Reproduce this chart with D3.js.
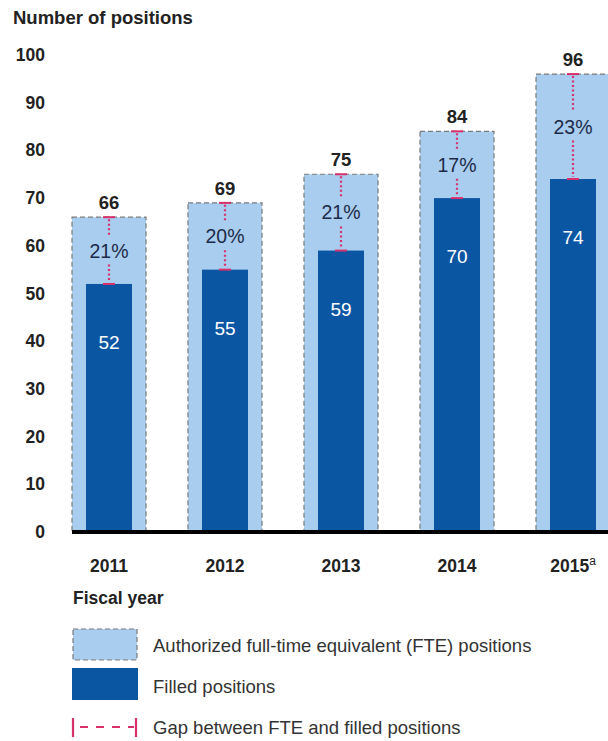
<!DOCTYPE html>
<meta charset="utf-8">
<script src="https://d3js.org/d3.v7.min.js"></script>
<style>
body { margin: 0; background: #fff; font-family: Arial, "Liberation Sans", sans-serif; }
</style>
<body>
<script>
var years = ["2011", "2012", "2013", "2014", "2015"];
var authorized = [66, 69, 75, 84, 96];
var filled = [52, 55, 59, 70, 74];
var gapPct = ["21%", "20%", "21%", "17%", "23%"];
var yTicks = [0, 10, 20, 30, 40, 50, 60, 70, 80, 90, 100];

var width = 608, height = 741;
var lightBlue = "#a9cdee", darkBlue = "#0b56a3", gapRed = "#d8306a";

var svg = d3.select("body").append("svg")
    .attr("width", width)
    .attr("height", height);

var x = d3.scaleBand()
    .domain(years)
    .range([51, 631])
    .paddingInner(0.362)
    .paddingOuter(0.181);

var y = d3.scaleLinear()
    .domain([0, 100])
    .range([532, 55]);

// title
svg.append("text")
    .attr("x", 13).attr("y", 24)
    .attr("font-size", 18.5).attr("font-weight", "bold").attr("fill", "#222")
    .text("Number of positions");

// y tick labels
svg.selectAll(".ytick").data(yTicks).enter().append("text")
    .attr("class", "ytick")
    .attr("x", 45)
    .attr("y", function(d) { return y(d) + 6; })
    .attr("text-anchor", "end")
    .attr("font-size", 17.5).attr("font-weight", "bold").attr("fill", "#222")
    .text(function(d) { return d; });

var g = svg.selectAll(".bar").data(years).enter().append("g").attr("class", "bar");

// authorized (light) bars
g.append("rect")
    .attr("x", function(d) { return x(d); })
    .attr("y", function(d, i) { return y(authorized[i]); })
    .attr("width", x.bandwidth())
    .attr("height", function(d, i) { return y(0) - y(authorized[i]); })
    .attr("fill", lightBlue)
    .attr("stroke", "#7a7a7a")
    .attr("stroke-width", 1.2)
    .attr("stroke-dasharray", "5,3");

// filled (dark) bars
var inset = 14;
g.append("rect")
    .attr("x", function(d) { return x(d) + inset; })
    .attr("y", function(d, i) { return y(filled[i]); })
    .attr("width", x.bandwidth() - 2 * inset)
    .attr("height", function(d, i) { return y(0) - y(filled[i]); })
    .attr("fill", darkBlue);

// gap dotted line (split around the percent label)
function cx(d) { return x(d) + x.bandwidth() / 2; }
g.each(function(d, i) {
  var s = d3.select(this);
  var top = y(authorized[i]), bot = y(filled[i]), mid = (top + bot) / 2;
  [[top + 2, mid - 15], [mid + 14, bot - 2]].forEach(function(seg) {
    if (seg[1] > seg[0]) {
      s.append("line")
        .attr("x1", cx(d)).attr("x2", cx(d))
        .attr("y1", seg[0]).attr("y2", seg[1])
        .attr("stroke", gapRed).attr("stroke-width", 2.2)
        .attr("stroke-dasharray", "2,2.5");
    }
  });
  [top, bot].forEach(function(yy) {
    s.append("line")
      .attr("x1", cx(d) - 6).attr("x2", cx(d) + 6)
      .attr("y1", yy).attr("y2", yy)
      .attr("stroke", gapRed).attr("stroke-width", 2);
  });
  s.append("text")
    .attr("x", cx(d)).attr("y", mid + 7)
    .attr("text-anchor", "middle")
    .attr("font-size", 19.5).attr("fill", "#1c2a48")
    .text(gapPct[i]);
});

// authorized totals above bars
g.append("text")
    .attr("x", cx)
    .attr("y", function(d, i) { return y(authorized[i]) - 8; })
    .attr("text-anchor", "middle")
    .attr("font-size", 18.5).attr("font-weight", "bold").attr("fill", "#222")
    .text(function(d, i) { return authorized[i]; });

// filled values inside dark bars
g.append("text")
    .attr("x", cx)
    .attr("y", function(d, i) { return y(filled[i]) + 65; })
    .attr("text-anchor", "middle")
    .attr("font-size", 19).attr("fill", "#fff")
    .text(function(d, i) { return filled[i]; });

// baseline
svg.append("line")
    .attr("x1", 72).attr("x2", width)
    .attr("y1", y(0)).attr("y2", y(0))
    .attr("stroke", "#000").attr("stroke-width", 4);

// x labels
var xl = svg.selectAll(".xlab").data(years).enter().append("text")
    .attr("class", "xlab")
    .attr("x", cx)
    .attr("y", 572)
    .attr("text-anchor", "middle")
    .attr("font-size", 17.5).attr("font-weight", "bold").attr("fill", "#222")
    .text(function(d) { return d; });
xl.filter(function(d) { return d === "2015"; })
  .append("tspan")
    .attr("dy", -7)
    .attr("font-size", 12).attr("font-weight", "normal")
    .text("a");

svg.append("text")
    .attr("x", 73).attr("y", 604)
    .attr("font-size", 17.5).attr("font-weight", "bold").attr("fill", "#222")
    .text("Fiscal year");

// legend
var lg = svg.append("g");
lg.append("rect")
    .attr("x", 73).attr("y", 629).attr("width", 64).attr("height", 31)
    .attr("fill", lightBlue).attr("stroke", "#7a7a7a")
    .attr("stroke-width", 1.2).attr("stroke-dasharray", "5,3");
lg.append("rect")
    .attr("x", 72).attr("y", 668).attr("width", 66).attr("height", 32)
    .attr("fill", darkBlue);
lg.append("line")
    .attr("x1", 76).attr("x2", 134).attr("y1", 727).attr("y2", 727)
    .attr("stroke", gapRed).attr("stroke-width", 2.2).attr("stroke-dasharray", "8,8").attr("stroke-dashoffset", -4);
[73, 136].forEach(function(xx) {
  lg.append("line")
    .attr("x1", xx).attr("x2", xx).attr("y1", 718).attr("y2", 737)
    .attr("stroke", gapRed).attr("stroke-width", 2.2);
});
var legText = ["Authorized full-time equivalent (FTE) positions", "Filled positions", "Gap between FTE and filled positions"];
var legY = [652, 693, 734];
lg.selectAll(".lt").data(legText).enter().append("text")
    .attr("x", 153)
    .attr("y", function(d, i) { return legY[i]; })
    .attr("font-size", 18.5).attr("fill", "#333")
    .text(function(d) { return d; });
</script>
</body>
